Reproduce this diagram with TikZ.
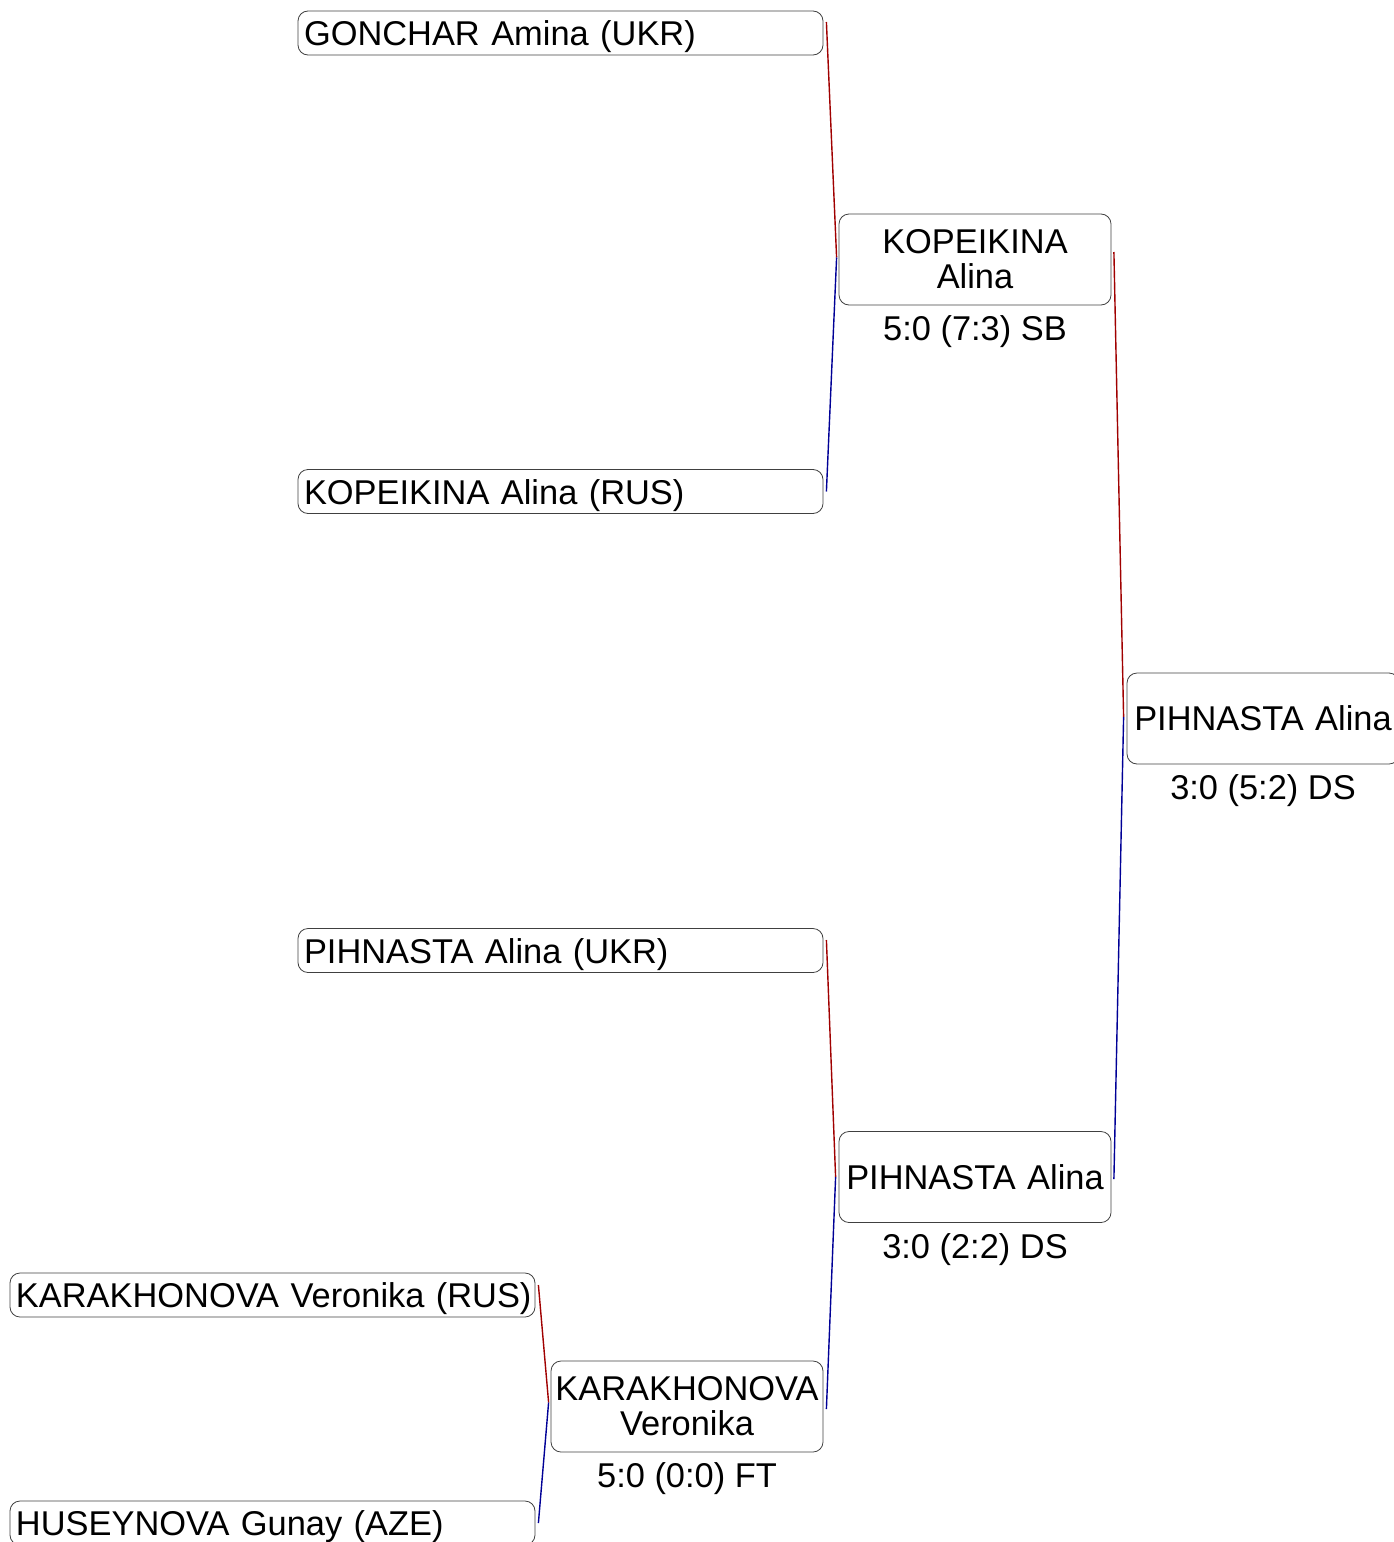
\documentclass[tikz,border=0pt]{standalone}
\usepackage{fontspec}
\setmainfont{Liberation Sans}
\usetikzlibrary{calc}
\definecolor{winred}{RGB}{160,0,0}
\definecolor{winblue}{RGB}{0,0,150}
\tikzset{
  every node/.style={font=\fontsize{17.2}{17.5}\selectfont},
  entrant/.style={draw=black!75, rounded corners=5pt, text width=256.5pt, minimum height=22pt, inner xsep=3pt, inner ysep=2pt, text height=14pt, text depth=1.4pt, align=left},
  winner/.style={draw=black!75, rounded corners=5pt, text width=134pt, minimum height=45.5pt, inner xsep=1pt, align=center},
  score/.style={anchor=base, inner sep=0pt},
  upper/.style={draw=winred, line width=0.7pt},
  lower/.style={draw=winblue, line width=0.7pt}
}
\begin{document}
\begin{tikzpicture}[x=0.5pt, y=-0.5pt]
  \useasboundingbox (0,0) rectangle (1393,1542);

  % First column
  \node[entrant] (gonchar) at (560.5,33) {GONCHAR Amina (UKR)};
  \node[entrant] (kopeikina) at (560.5,491.5) {KOPEIKINA Alina (RUS)};
  \node[entrant] (pihnasta) at (560.5,950.5) {PIHNASTA Alina (UKR)};
  \node[entrant] (karakhonova) at (272.5,1295) {\mbox{KARAKHONOVA Veronika (RUS)}};
  \node[entrant] (huseynova) at (272.5,1523) {HUSEYNOVA Gunay (AZE)};

  % Winners
  \node[winner] (winA) at (975,259.5) {KOPEIKINA\\Alina};
  \node[score] (scoreA) at (975,340) {5:0 (7:3) SB};
  \node[winner] (winC) at (687,1406.5) {KARAKHONOVA\\Veronika};
  \node[score] (scoreC) at (687,1487) {5:0 (0:0) FT};
  \node[winner] (winB) at (975,1177) {PIHNASTA Alina};
  \node[score] (scoreB) at (975,1258) {3:0 (2:2) DS};
  \node[winner] (final) at (1263,718.5) {PIHNASTA Alina};
  \node[score] (scoreF) at (1263,799) {3:0 (5:2) DS};

  % Connectors
  \draw[upper] ($(gonchar.east)+(3,-11)$) -- ($(winA.west)+(-2,-2)$);
  \draw[lower] ($(winA.west)+(-2,-2)$) -- ($(kopeikina.east)+(3,0)$);
  \draw[upper] ($(pihnasta.east)+(3,-10.5)$) -- ($(winB.west)+(-3,0)$);
  \draw[lower] ($(winB.west)+(-3,0)$) -- ($(winC.east)+(3,2.5)$);
  \draw[upper] ($(karakhonova.east)+(3,-10)$) -- ($(winC.west)+(-2,-4)$);
  \draw[lower] ($(winC.west)+(-2,-4)$) -- ($(huseynova.east)+(3,0)$);
  \draw[upper] ($(winA.east)+(2.5,-7.5)$) -- ($(final.west)+(-3,-1.5)$);
  \draw[lower] ($(final.west)+(-3,-1.5)$) -- ($(winB.east)+(2.5,2)$);
\end{tikzpicture}
\end{document}
